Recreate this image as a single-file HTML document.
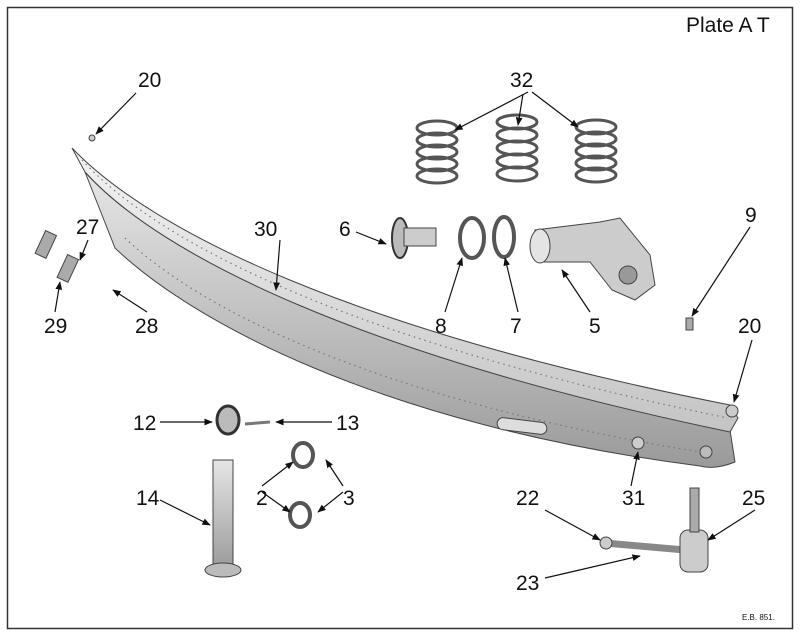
<!DOCTYPE html>
<html><head><meta charset="utf-8"><style>
body{margin:0;background:#fff;width:800px;height:637px;overflow:hidden}
svg text{font-family:"Liberation Sans",sans-serif;fill:#111}
</style></head><body>
<svg width="800" height="637" viewBox="0 0 800 637" xmlns="http://www.w3.org/2000/svg">
<defs>
<linearGradient id="g1" x1="0" y1="0" x2="0" y2="1"><stop offset="0" stop-color="#f4f4f4"/><stop offset="1" stop-color="#c4c4c4"/></linearGradient>
<linearGradient id="g2" x1="0" y1="0" x2="0" y2="1"><stop offset="0" stop-color="#e6e6e6"/><stop offset="1" stop-color="#9a9a9a"/></linearGradient>
<marker id="a" viewBox="0 0 10 10" refX="9" refY="5" markerWidth="7" markerHeight="7" orient="auto"><path d="M0,1 L10,5 L0,9 z" fill="#111"/></marker>
</defs>
<rect x="7.5" y="7.5" width="785" height="621" fill="none" stroke="#333" stroke-width="1.5"/>
<text x="686" y="32" font-size="21">Plate A T</text>
<text x="742" y="620" font-size="8">E.B. 851.</text>

<!-- bar front face -->
<path d="M85,172 C160,255 360,355 730,430 L735,462 Q715,470 700,466 C380,425 190,320 115,248 Z" fill="url(#g2)" stroke="#444"/>
<!-- bar top surface -->
<path d="M72,148 C150,230 350,330 730,405 L738,418 L730,432 C360,355 160,255 85,172 Z" fill="url(#g1)" stroke="#444"/>
<g stroke="#777" stroke-width="1.2" stroke-dasharray="1.5 4" fill="none">
<path d="M82,160 C160,245 355,342 728,418"/>
<path d="M125,238 C200,310 380,400 700,452"/>
</g>
<rect x="497" y="420" width="50" height="12" rx="6" fill="#ddd" stroke="#444" transform="rotate(7 522 426)"/>
<circle cx="732" cy="411" r="6" fill="#ccc" stroke="#444"/>
<circle cx="638" cy="443" r="6" fill="#ccc" stroke="#444"/>
<circle cx="706" cy="452" r="6" fill="#bbb" stroke="#444"/>
<circle cx="92" cy="138" r="3" fill="#ccc" stroke="#444"/>

<!-- springs -->
<g fill="none" stroke="#555" stroke-width="3">
<g transform="translate(437,128)"><ellipse cx="0" cy="0" rx="20" ry="7"/><ellipse cx="0" cy="12" rx="20" ry="7"/><ellipse cx="0" cy="24" rx="20" ry="7"/><ellipse cx="0" cy="36" rx="20" ry="7"/><ellipse cx="0" cy="48" rx="20" ry="7"/></g>
<g transform="translate(517,122)"><ellipse cx="0" cy="0" rx="20" ry="7"/><ellipse cx="0" cy="13" rx="20" ry="7"/><ellipse cx="0" cy="26" rx="20" ry="7"/><ellipse cx="0" cy="39" rx="20" ry="7"/><ellipse cx="0" cy="52" rx="20" ry="7"/></g>
<g transform="translate(596,127)"><ellipse cx="0" cy="0" rx="20" ry="7"/><ellipse cx="0" cy="12" rx="20" ry="7"/><ellipse cx="0" cy="24" rx="20" ry="7"/><ellipse cx="0" cy="36" rx="20" ry="7"/><ellipse cx="0" cy="48" rx="20" ry="7"/></g>
</g>
<!-- 6 -->
<ellipse cx="400" cy="238" rx="8" ry="20" fill="#bbb" stroke="#333" stroke-width="2"/>
<rect x="404" y="228" width="32" height="18" fill="#ccc" stroke="#444"/>
<!-- 8,7 -->
<ellipse cx="472" cy="238" rx="12" ry="20" fill="none" stroke="#555" stroke-width="4"/>
<ellipse cx="504" cy="237" rx="10" ry="20" fill="none" stroke="#555" stroke-width="4"/>
<!-- 5 -->
<path d="M535,230 L600,222 L620,218 L650,255 L655,285 L635,300 L612,290 L590,262 L540,262 Z" fill="#ccc" stroke="#444"/>
<ellipse cx="540" cy="246" rx="10" ry="17" fill="#e4e4e4" stroke="#444"/>
<circle cx="628" cy="275" r="9" fill="#999" stroke="#444"/>
<!-- 9 -->
<rect x="686" y="318" width="7" height="12" fill="#aaa" stroke="#444"/>
<!-- 27/29 pins -->
<rect x="40" y="232" width="12" height="25" fill="#aaa" stroke="#444" transform="rotate(25 46 244)"/>
<rect x="62" y="256" width="12" height="25" fill="#aaa" stroke="#444" transform="rotate(25 68 268)"/>
<!-- 12,13 -->
<ellipse cx="228" cy="420" rx="11" ry="14" fill="#bbb" stroke="#333" stroke-width="3"/>
<line x1="245" y1="424" x2="270" y2="422" stroke="#777" stroke-width="3"/>
<!-- 2/3 washers -->
<ellipse cx="303" cy="455" rx="10" ry="12" fill="none" stroke="#555" stroke-width="4"/>
<ellipse cx="300" cy="515" rx="10" ry="12" fill="none" stroke="#555" stroke-width="4"/>
<!-- 14 bolt -->
<rect x="213" y="460" width="20" height="110" fill="url(#g2)" stroke="#444"/>
<ellipse cx="223" cy="570" rx="18" ry="7" fill="#bbb" stroke="#444"/>
<!-- 22/23/25 -->
<line x1="605" y1="543" x2="685" y2="550" stroke="#888" stroke-width="7"/>
<circle cx="606" cy="543" r="6" fill="#ccc" stroke="#444"/>
<rect x="680" y="530" width="28" height="42" rx="8" fill="#ccc" stroke="#444"/>
<rect x="690" y="488" width="9" height="44" fill="#aaa" stroke="#444"/>

<!-- labels -->
<g font-size="21">
<text x="138" y="87">20</text><text x="510" y="87">32</text>
<text x="254" y="236">30</text><text x="339" y="236">6</text><text x="76" y="234">27</text>
<text x="745" y="222">9</text><text x="44" y="333">29</text><text x="135" y="333">28</text>
<text x="435" y="333">8</text><text x="510" y="333">7</text><text x="589" y="333">5</text>
<text x="738" y="333">20</text><text x="133" y="430">12</text><text x="336" y="430">13</text>
<text x="136" y="505">14</text><text x="256" y="505">2</text><text x="343" y="505">3</text>
<text x="516" y="505">22</text><text x="622" y="505">31</text><text x="742" y="505">25</text>
<text x="516" y="590">23</text>
</g>
<g stroke="#111" stroke-width="1.2" fill="none" marker-end="url(#a)">
<line x1="136" y1="93" x2="96" y2="134"/>
<line x1="528" y1="92" x2="455" y2="130"/><line x1="523" y1="94" x2="518" y2="125"/><line x1="532" y1="92" x2="578" y2="127"/>
<line x1="280" y1="240" x2="276" y2="290"/><line x1="356" y1="232" x2="386" y2="244"/>
<line x1="88" y1="240" x2="80" y2="260"/><line x1="750" y1="227" x2="692" y2="316"/>
<line x1="55" y1="312" x2="60" y2="282"/><line x1="147" y1="312" x2="113" y2="290"/>
<line x1="445" y1="312" x2="462" y2="258"/><line x1="518" y1="312" x2="505" y2="258"/><line x1="590" y1="312" x2="562" y2="270"/>
<line x1="752" y1="340" x2="734" y2="402"/><line x1="160" y1="422" x2="212" y2="422"/><line x1="332" y1="422" x2="276" y2="422"/>
<line x1="160" y1="500" x2="210" y2="525"/><line x1="262" y1="486" x2="293" y2="462"/><line x1="262" y1="492" x2="290" y2="512"/>
<line x1="343" y1="486" x2="326" y2="460"/><line x1="343" y1="492" x2="318" y2="512"/>
<line x1="545" y1="510" x2="600" y2="540"/><line x1="631" y1="486" x2="638" y2="452"/><line x1="755" y1="510" x2="708" y2="540"/>
<line x1="545" y1="578" x2="640" y2="556"/>
</g>
</svg>
</body></html>
